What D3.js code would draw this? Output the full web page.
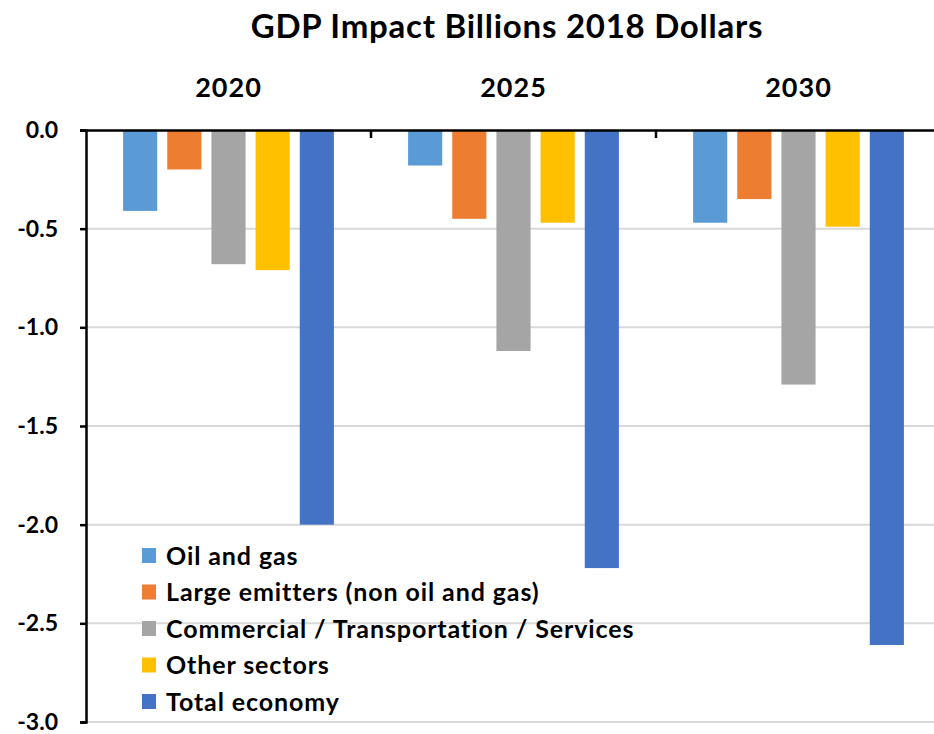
<!DOCTYPE html>
<html>
<head>
<meta charset="utf-8">
<script src="https://cdn.jsdelivr.net/npm/d3@7"></script>
<style>
  body { margin: 0; background: #fff; }
  svg { font-family: Lato, "Open Sans", sans-serif; }
</style>
</head>
<body>
<svg id="chart" width="934" height="734"></svg>
<script>
// data
const years = ["2020", "2025", "2030"];
const series = [
    "Oil and gas",
    "Large emitters (non oil and gas)",
    "Commercial / Transportation / Services",
    "Other sectors",
    "Total economy"
];
const oilGas = [-0.41, -0.18, -0.47];
const largeEmitters = [-0.20, -0.45, -0.35];
const commercial = [-0.68, -1.12, -1.29];
const otherSectors = [-0.71, -0.47, -0.49];
const totalEconomy = [-2.00, -2.22, -2.61];
const yTicks = [0, -0.5, -1.0, -1.5, -2.0, -2.5, -3.0];
const colors = ["#5B9BD5", "#ED7D31", "#A5A5A5", "#FFC000", "#4472C4"];

const values = [oilGas, largeEmitters, commercial, otherSectors, totalEconomy];

const svg = d3.select("#chart");
const plotLeft = 86, plotRight = 941, plotTop = 130, plotBottom = 722;

const x = d3.scaleBand().domain(years).range([plotLeft, plotRight]);
const xs = d3.scaleBand().domain(series).range([0, x.bandwidth()])
    .paddingInner(0.227).paddingOuter(0.84);
const y = d3.scaleLinear().domain([-3, 0]).range([plotBottom, plotTop]);

const fmt = d3.formatLocale({ decimal: ".", thousands: ",", grouping: [3], currency: ["", ""], minus: "-" }).format(".1f");

// gridlines
svg.append("g")
    .selectAll("line")
    .data(yTicks.filter(d => d !== 0))
    .join("line")
    .attr("x1", plotLeft).attr("x2", plotRight)
    .attr("y1", d => y(d)).attr("y2", d => y(d))
    .attr("stroke", "#d9d9d9").attr("stroke-width", 2);

// bars
const rows = [];
years.forEach((yr, i) => series.forEach((s, j) => rows.push({ yr, s, j, v: values[j][i] })));

svg.append("g")
    .selectAll("rect")
    .data(rows)
    .join("rect")
    .attr("x", d => x(d.yr) + xs(d.s))
    .attr("width", xs.bandwidth())
    .attr("y", y(0))
    .attr("height", d => y(d.v) - y(0))
    .attr("fill", d => colors[d.j]);

// y axis
const yAxis = svg.append("g")
    .attr("transform", `translate(${plotLeft},0)`)
    .call(d3.axisLeft(y).tickValues(yTicks).tickFormat(fmt).tickSize(6).tickPadding(22));
yAxis.select(".domain").attr("stroke", "#000").attr("stroke-width", 2.5);
yAxis.selectAll(".tick line").attr("stroke", "#000").attr("stroke-width", 2.5);
yAxis.selectAll(".tick text")
    .attr("font-size", 23).attr("font-weight", "bold").attr("fill", "#000")
    .attr("font-family", "Lato, sans-serif");

// zero line with category ticks
const xAxis = svg.append("g")
    .attr("transform", `translate(0,${y(0)})`)
    .call(d3.axisBottom(x).tickSize(0).tickFormat(""));
xAxis.select(".domain").attr("stroke", "#000").attr("stroke-width", 2.5);
xAxis.selectAll(".tick").remove();
xAxis.selectAll(".sep")
    .data(years.slice(1))
    .join("line")
    .attr("x1", d => x(d)).attr("x2", d => x(d))
    .attr("y1", 0).attr("y2", 8)
    .attr("stroke", "#000").attr("stroke-width", 2.5);

// category labels at the top
svg.append("g")
    .selectAll("text")
    .data(years)
    .join("text")
    .attr("x", d => x(d) + x.bandwidth() / 2)
    .attr("y", 97)
    .attr("text-anchor", "middle")
    .attr("font-size", 27).attr("font-weight", "bold")
    .attr("letter-spacing", 1)
    .text(d => d);

// title
svg.append("text")
    .attr("x", 507).attr("y", 38)
    .attr("text-anchor", "middle")
    .attr("font-size", 33).attr("font-weight", "bold")
    .attr("letter-spacing", 0.75)
    .text("GDP Impact Billions 2018 Dollars");

// legend
const legend = svg.append("g").attr("transform", "translate(142,556)");
const item = legend.selectAll("g")
    .data(series)
    .join("g")
    .attr("transform", (d, i) => `translate(0,${i * 36.5})`);
item.append("rect")
    .attr("x", 0).attr("y", -8)
    .attr("width", 14).attr("height", 15)
    .attr("fill", (d, i) => colors[i]);
item.append("text")
    .attr("x", 24).attr("y", 0)
    .attr("dy", "0.35em")
    .attr("font-size", 25).attr("font-weight", "bold")
    .attr("letter-spacing", 0.9)
    .text(d => d);
</script>
</body>
</html>
